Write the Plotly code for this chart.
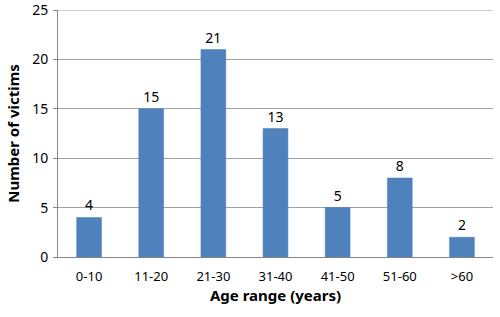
import plotly.graph_objects as go

categories = ["0-10", "11-20", "21-30", "31-40", "41-50", "51-60", ">60"]
victims = [4, 15, 21, 13, 5, 8, 2]
y_max = 25

fig = go.Figure(go.Bar(
    x=categories, y=victims,
    marker=dict(color="#4F81BD", line=dict(color="#4A7EBB", width=0.5)),
    text=[str(v) for v in victims], textposition="outside",
    textfont=dict(size=14, color="#000000"),
    cliponaxis=False,
))
fig.add_hline(y=y_max, line=dict(color="#A0A0A0", width=1), layer="below")
fig.update_layout(
    width=500, height=317,
    margin=dict(l=58, r=7, t=10, b=60),
    paper_bgcolor="white", plot_bgcolor="white",
    bargap=0.6,
    showlegend=False,
    font=dict(family="Noto Sans, Open Sans, sans-serif", color="#000000"),
)
fig.update_xaxes(
    title=dict(text="<b>Age range (years)</b>", font=dict(size=15), standoff=6),
    tickfont=dict(size=13), ticklabelstandoff=7,
    showline=True, linecolor="#868686", linewidth=1,
    ticks="", showgrid=False, automargin=False,
)
fig.update_yaxes(
    title=dict(text="<b>Number of victims</b>", font=dict(size=15), standoff=8),
    range=[0, y_max], dtick=5, tickfont=dict(size=14), ticklabelstandoff=2,
    showline=True, linecolor="#868686", linewidth=1,
    showgrid=True, gridcolor="#A0A0A0", gridwidth=1,
    ticks="outside", ticklen=4, tickcolor="#868686",
    zeroline=False, automargin=False, ticklabeloverflow="allow",
)
fig.write_html("out.html", config={"displayModeBar": False},
               post_script="document.body.style.margin='0px';")
